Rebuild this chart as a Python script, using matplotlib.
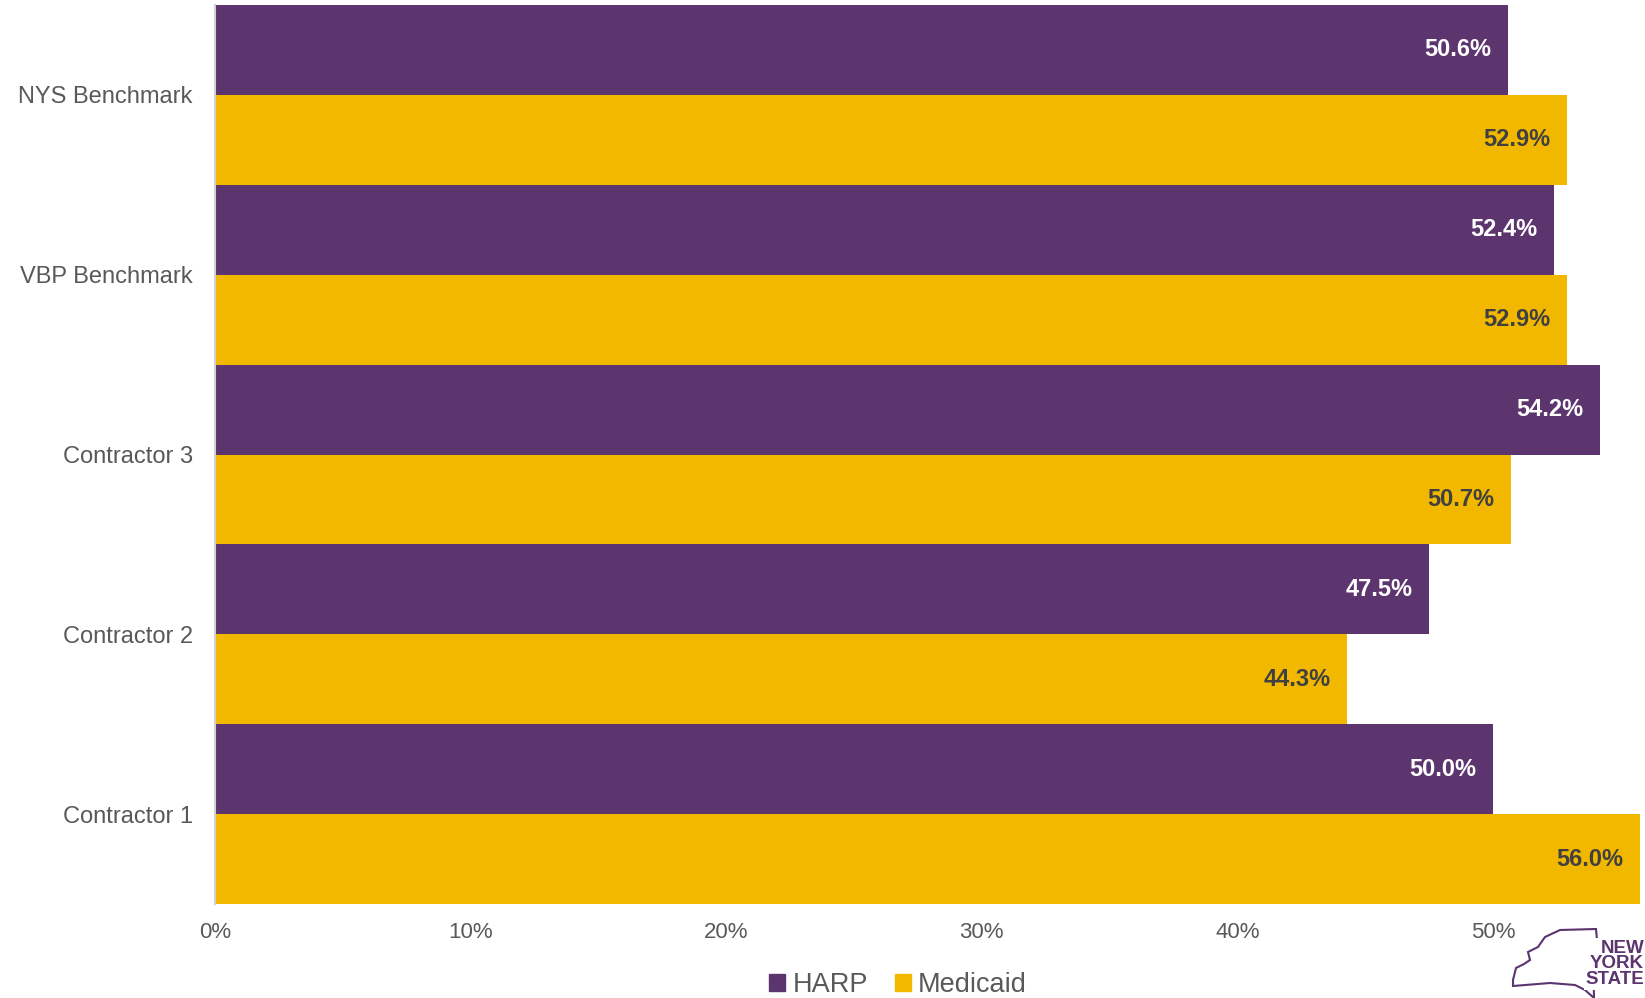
import matplotlib.pyplot as plt
import numpy as np
from matplotlib.patches import Patch, Polygon

plt.rcParams['font.family'] = ['Liberation Sans', 'DejaVu Sans']

categories = ['Contractor 1', 'Contractor 2', 'Contractor 3', 'VBP Benchmark', 'NYS Benchmark']
harp = [50.0, 47.5, 54.2, 52.4, 50.6]
medicaid = [56.0, 44.3, 50.7, 52.9, 52.9]
xticks = [0, 10, 20, 30, 40, 50]

purple = '#5C346E'
gold = '#F2B800'
grey = '#595959'

fig = plt.figure(figsize=(16.45, 9.98), dpi=100)
ax = fig.add_axes([215 / 1645, 1 - 904 / 998, 1425 / 1645, 899 / 998])

xmax = 55.75
y = np.arange(len(categories))
h = 0.5
ax.barh(y + h / 2, harp, height=h, color=purple)
ax.barh(y - h / 2, medicaid, height=h, color=gold)

ax.set_xlim(0, xmax)
ax.set_ylim(-0.5, len(categories) - 0.5)

for yi, v in zip(y, harp):
    ax.text(v - 0.65, yi + h / 2, f'{v:.1f}%', ha='right', va='center',
            color='white', fontsize=17, fontweight='bold')
for yi, v in zip(y, medicaid):
    ax.text(min(v, xmax) - 0.65, yi - h / 2, f'{v:.1f}%', ha='right', va='center',
            color='#404040', fontsize=17, fontweight='bold')

ax.set_yticks(y)
ax.set_yticklabels(categories, fontsize=17, color=grey)
ax.set_xticks(xticks)
ax.set_xticklabels([f'{t}%' for t in xticks], fontsize=16, color=grey)
ax.tick_params(axis='both', length=0)
ax.tick_params(axis='x', pad=13)
ax.tick_params(axis='y', pad=16)

for s in ['top', 'right', 'bottom']:
    ax.spines[s].set_visible(False)
ax.spines['left'].set_color('#D0D0D0')
ax.spines['left'].set_linewidth(1.5)

handles = [Patch(color=purple, label='HARP'), Patch(color=gold, label='Medicaid')]
fig.legend(handles=handles, loc='center', bbox_to_anchor=(898 / 1645, 1 - 985 / 998),
           ncol=2, frameon=False, fontsize=19.5, labelcolor=grey,
           handlelength=0.58, handleheight=0.58, handletextpad=0.27, columnspacing=1.0)

# NY State logo (rough outline + wordmark)
outline = [(1513, 980), (1516, 968), (1524, 964), (1530, 960), (1528, 952),
           (1538, 947), (1545, 937), (1560, 930), (1596, 929), (1597, 940),
           (1593, 948), (1594, 998), (1585, 990), (1575, 985), (1550, 983),
           (1513, 986)]
poly = Polygon([(px / 1645, 1 - py / 998) for px, py in outline], closed=True,
               fill=False, edgecolor=purple, linewidth=1.5, transform=fig.transFigure)
fig.patches.append(poly)
fig.text(1644 / 1645, 1 - 964 / 998, 'NEW\nYORK\nSTATE', ha='right', va='center',
         color=purple, fontsize=13.5, fontweight='heavy', linespacing=0.92,
         bbox=dict(facecolor='white', edgecolor='none', pad=1))

fig.savefig('out.png', dpi=100)
